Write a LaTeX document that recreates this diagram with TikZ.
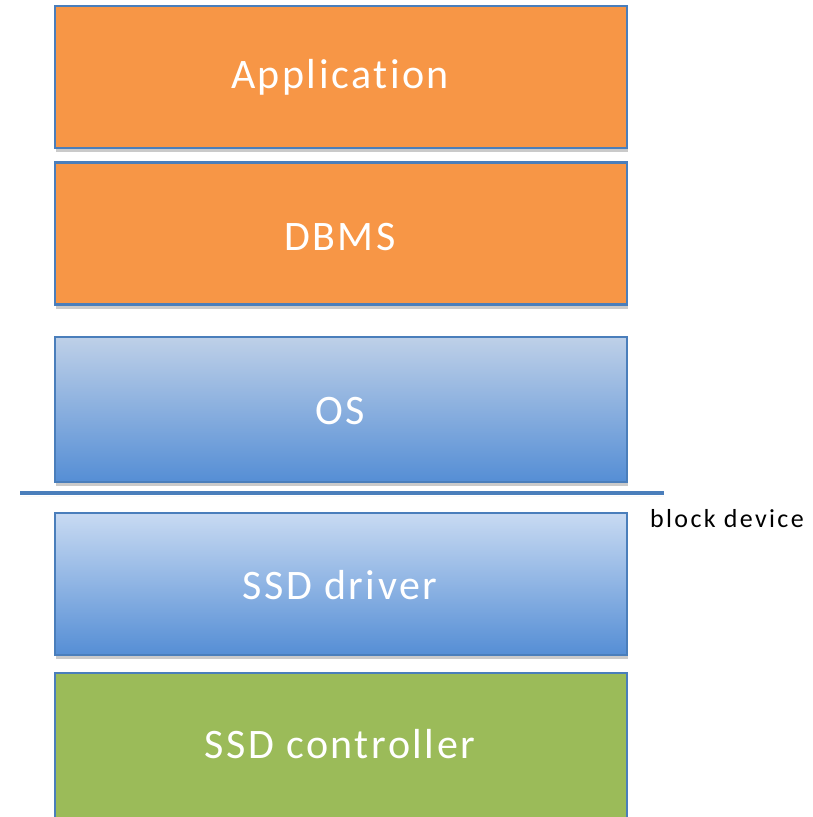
\documentclass[tikz,border=0pt]{standalone}
\usepackage{fontspec}
\setmainfont{Carlito}
\newfontfamily\layerfont[LetterSpace=6,Ligatures={NoCommon,NoRare,NoContextual}]{Carlito}
\newfontfamily\notefont[LetterSpace=9,Ligatures={NoCommon,NoRare,NoContextual}]{Carlito}
\usetikzlibrary{shadows}
\definecolor{edgeblue}{RGB}{74,126,187}
\definecolor{appor}{RGB}{247,150,70}
\definecolor{blutop}{RGB}{190,208,232}
\definecolor{blubot}{RGB}{85,142,213}
\definecolor{drvtop}{RGB}{200,218,242}
\definecolor{ctrlgreen}{RGB}{155,187,89}
\tikzset{
  layer/.style={draw=edgeblue, line width=2.8pt, minimum width=572pt, minimum height=142pt,
    inner sep=0pt,
    drop shadow={shadow xshift=1pt, shadow yshift=-4pt, opacity=0.35, fill=black!60}},
  orangelayer/.style={layer, fill=appor},
  bluelayer/.style={layer, top color=blutop, bottom color=blubot},
  drvlayer/.style={layer, top color=drvtop, bottom color=blubot},
  greenlayer/.style={layer, fill=ctrlgreen},
  layertext/.style={anchor=base, inner sep=0pt, text=white,
    font=\layerfont\fontsize{42}{50}\selectfont},
}
\begin{document}
\begin{tikzpicture}[x=1pt,y=-1pt]
  \useasboundingbox (0,0) rectangle (812,817);
  % stacked layers
  \node[orangelayer] (app) at (341,77) {};
  \node[orangelayer] (dbms) at (341,233.5) {};
  \node[bluelayer, minimum height=145pt] (os) at (341,409.5) {};
  \node[drvlayer] (drv) at (341,584) {};
  \node[greenlayer, minimum height=150pt] (ctrl) at (341,748) {};
  % layer labels
  \node[layertext] (appt) at (340,88) {Application};
  \node[layertext] (dbmst) at (340,250) {DBMS};
  \node[layertext] (ost) at (340,424) {OS};
  \node[layertext] (drvt) at (340,599) {SSD driver};
  \node[layertext] (ctrlt) at (340,758) {SSD controller};
  % block device boundary line
  \coordinate (bl) at (20,493);
  \coordinate (br) at (664,493);
  \draw[edgeblue, line width=4.5pt,
    drop shadow={shadow xshift=0pt, shadow yshift=-3pt, opacity=0.3, fill=black!60}] (bl) -- (br);
  \node[anchor=base west, font=\notefont\fontsize{26}{30}\selectfont, inner sep=0pt] (blk) at (650,527) {block device};
\end{tikzpicture}
\end{document}
